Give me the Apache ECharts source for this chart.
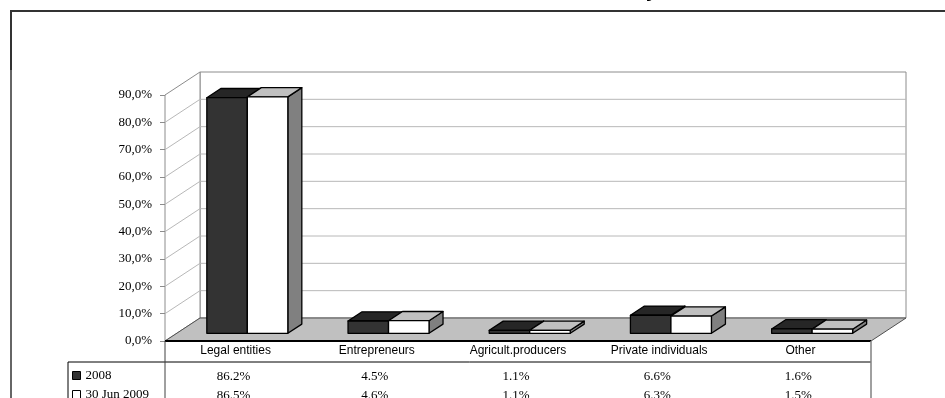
<!DOCTYPE html>
<html>
<head>
<meta charset="utf-8">
<script src="https://cdn.jsdelivr.net/npm/echarts@6/dist/echarts.min.js"></script>
<style>
  html, body { margin: 0; padding: 0; background: #fff; }
  #chart { width: 945px; height: 398px; }
</style>
</head>
<body>
<div id="chart"></div>
<script>
// Client structure by type (share of total)
const categories = ['Legal entities', 'Entrepreneurs', 'Agricult.producers', 'Private individuals', 'Other'];
const seriesNames = ['2008', '30 Jun 2009'];
const values2008 = [86.2, 4.5, 1.1, 6.6, 1.6];
const values2009 = [86.5, 4.6, 1.1, 6.3, 1.5];
const yTicks = [0, 10, 20, 30, 40, 50, 60, 70, 80, 90];

// Oblique depth of the floor (px) and where the bars stand on it
const DX = 35, DY = -23;
const BAR_F0 = 0.335, BAR_F1 = 0.735;
const BAR_W = 40.5;
const TABLE_LEFT = 68;

const chart = echarts.init(document.getElementById('chart'), null, { renderer: 'canvas' });

function renderWalls(params, api) {
  const cs = params.coordSys;
  const L = cs.x, R = cs.x + cs.width;
  const y0 = api.coord([0, yTicks[0]])[1];
  const yTop = api.coord([0, yTicks[yTicks.length - 1]])[1];
  const children = [];
  // back wall
  children.push({
    type: 'rect',
    shape: { x: L + DX, y: yTop + DY, width: R - L, height: y0 - yTop },
    style: { fill: '#fff', stroke: '#8c8c8c', lineWidth: 1 }
  });
  // left side wall
  children.push({
    type: 'polygon',
    shape: { points: [[L, y0], [L, yTop], [L + DX, yTop + DY], [L + DX, y0 + DY]] },
    style: { fill: '#fff', stroke: '#8c8c8c', lineWidth: 1 }
  });
  // gridlines on both walls
  yTicks.slice(1, -1).forEach(function (t) {
    const y = api.coord([0, t])[1];
    children.push({
      type: 'polyline',
      shape: { points: [[L, y], [L + DX, y + DY], [R + DX, y + DY]] },
      style: { fill: null, stroke: '#b8b8b8', lineWidth: 1 }
    });
  });
  // floor
  children.push({
    type: 'polygon',
    shape: { points: [[L, y0], [R, y0], [R + DX, y0 + DY], [L + DX, y0 + DY]] },
    style: { fill: '#c0c0c0', stroke: '#505050', lineWidth: 1 }
  });
  // data table rules
  children.push({
    type: 'line', shape: { x1: L, y1: y0, x2: R, y2: y0 },
    style: { stroke: '#000', lineWidth: 2 }
  });
  children.push({
    type: 'line', shape: { x1: TABLE_LEFT, y1: y0 + 21, x2: R, y2: y0 + 21 },
    style: { stroke: '#000', lineWidth: 1 }
  });
  children.push({
    type: 'line', shape: { x1: TABLE_LEFT, y1: y0 + 21, x2: TABLE_LEFT, y2: 400 },
    style: { stroke: '#000', lineWidth: 1 }
  });
  children.push({
    type: 'line', shape: { x1: L, y1: y0, x2: L, y2: 400 },
    style: { stroke: '#404040', lineWidth: 1 }
  });
  children.push({
    type: 'line', shape: { x1: R, y1: y0, x2: R, y2: 400 },
    style: { stroke: '#808080', lineWidth: 1.5 }
  });
  return { type: 'group', children: children };
}

function makeBarRender(idx, front, topFill, sideFill) {
  return function (params, api) {
    const i = api.value(0), v = api.value(1);
    const base = api.coord([i, 0]);
    const top = api.coord([i, v]);
    const ox = DX * BAR_F0, oy = DY * BAR_F0;
    const dx = DX * (BAR_F1 - BAR_F0), dy = DY * (BAR_F1 - BAR_F0);
    const x0 = base[0] + ox + (idx === 0 ? -BAR_W : 0);
    const x1 = x0 + BAR_W;
    const yb = base[1] + oy, yt = top[1] + oy;
    const edge = { stroke: '#000', lineWidth: 1.3, lineJoin: 'round' };
    return {
      type: 'group',
      children: [
        {
          type: 'polygon',
          shape: { points: [[x1, yb], [x1, yt], [x1 + dx, yt + dy], [x1 + dx, yb + dy]] },
          style: Object.assign({ fill: sideFill }, edge)
        },
        {
          type: 'polygon',
          shape: { points: [[x0, yt], [x1, yt], [x1 + dx, yt + dy], [x0 + dx, yt + dy]] },
          style: Object.assign({ fill: topFill }, edge)
        },
        {
          type: 'rect',
          shape: { x: x0, y: yt, width: BAR_W, height: yb - yt },
          style: Object.assign({ fill: front }, edge)
        },
        {
          type: 'text',
          x: base[0] - 2,
          y: base[1] + (idx === 0 ? 36 : 55),
          style: {
            text: v.toFixed(1) + '%',
            fill: '#000',
            font: '13px "Liberation Serif", "DejaVu Serif", serif',
            align: 'center',
            verticalAlign: 'middle'
          }
        }
      ]
    };
  };
}

const option = {
  animation: false,
  backgroundColor: '#fff',
  grid: { left: 165, right: 74, top: 95, bottom: 57, containLabel: false, outerBoundsMode: 'none' },
  xAxis: {
    type: 'category',
    data: categories,
    boundaryGap: true,
    axisLine: { show: false },
    axisTick: { show: false },
    splitLine: { show: false },
    axisLabel: {
      margin: 4,
      color: '#000',
      fontFamily: '"Liberation Sans", Arial, sans-serif',
      fontSize: 12,
      interval: 0
    }
  },
  yAxis: {
    type: 'value',
    min: 0,
    max: 90,
    interval: 10,
    splitLine: { show: false },
    axisLine: { show: true, lineStyle: { color: '#8c8c8c', width: 1 } },
    axisTick: { show: true, length: 5, lineStyle: { color: '#8c8c8c' } },
    axisLabel: {
      margin: 13,
      color: '#000',
      fontFamily: '"Liberation Serif", "DejaVu Serif", serif',
      fontSize: 13,
      formatter: function (v) { return v.toFixed(1).replace('.', ',') + '%'; }
    }
  },
  legend: {
    data: seriesNames,
    orient: 'vertical',
    left: 72,
    top: 369,
    width: 95,
    height: 60,
    padding: 0,
    icon: 'rect',
    itemWidth: 8,
    itemHeight: 8,
    itemGap: 6,
    selectedMode: false,
    itemStyle: { borderColor: '#000', borderWidth: 1 },
    textStyle: { color: '#000', fontFamily: '"Liberation Serif", "DejaVu Serif", serif', fontSize: 13 }
  },
  graphic: [
    { type: 'line', shape: { x1: 10, y1: 11, x2: 945, y2: 11 }, style: { stroke: '#333', lineWidth: 2 } },
    { type: 'line', shape: { x1: 11, y1: 10, x2: 11, y2: 70 }, style: { stroke: '#333', lineWidth: 2 } },
    { type: 'line', shape: { x1: 11, y1: 70, x2: 11, y2: 398 }, style: { stroke: '#666', lineWidth: 2 } },
    {
      type: 'text', x: 646, y: -9,
      style: { text: 'y', fill: '#000', font: 'bold 20px "Liberation Sans", Arial, sans-serif', verticalAlign: 'middle' }
    }
  ],
  series: [
    {
      type: 'custom',
      name: 'walls',
      silent: true,
      clip: false,
      z: 1,
      renderItem: renderWalls,
      data: [[0, 0]]
    },
    {
      type: 'custom',
      name: seriesNames[0],
      clip: false,
      z: 2,
      itemStyle: { color: '#333333' },
      renderItem: makeBarRender(0, '#333333', '#262626', '#1a1a1a'),
      data: values2008.map(function (v, i) { return [i, v]; })
    },
    {
      type: 'custom',
      name: seriesNames[1],
      clip: false,
      z: 3,
      itemStyle: { color: '#ffffff' },
      renderItem: makeBarRender(1, '#ffffff', '#c0c0c0', '#808080'),
      data: values2009.map(function (v, i) { return [i, v]; })
    }
  ]
};

chart.setOption(option);
</script>
</body>
</html>
